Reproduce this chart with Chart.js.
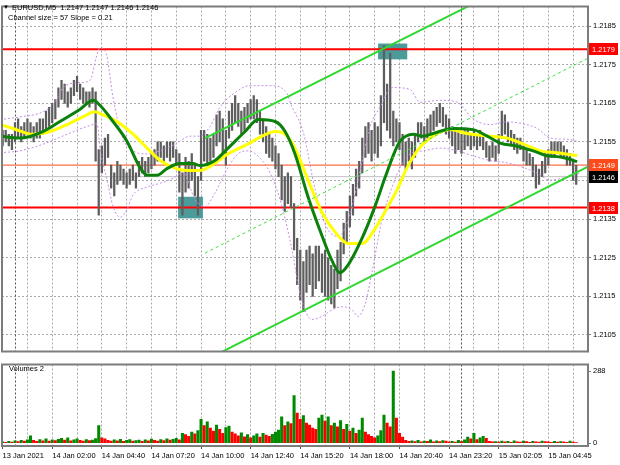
<!DOCTYPE html>
<html>
<head>
<meta charset="utf-8">
<script src="https://cdn.jsdelivr.net/npm/chart.js@4.4.1/dist/chart.umd.min.js"></script>
<style>
  html, body { margin: 0; padding: 0; background: #fff; }
  #wrap { position: relative; width: 620px; height: 465px; overflow: hidden; }
  canvas { position: absolute; left: 0; }
  #main { top: 0; }
  #vol { top: 358px; }
</style>
</head>
<body>
<div id="wrap">
  <canvas id="main" width="620" height="358"></canvas>
  <canvas id="vol" width="620" height="107"></canvas>
</div>
<script>
// x axis is in 10-minute steps counted from 13 Jan 23:20
const timeLabels = ['13 Jan 2021', '14 Jan 02:00', '14 Jan 04:40', '14 Jan 07:20', '14 Jan 10:00', '14 Jan 12:40',
    '14 Jan 15:20', '14 Jan 18:00', '14 Jan 20:40', '14 Jan 23:20', '15 Jan 02:05', '15 Jan 04:45'];
const labelStep = 16;
const daySeparators = [4, 148];
const priceTicks = [1.2105, 1.2115, 1.2125, 1.2135, 1.2145, 1.2155, 1.2165, 1.2175, 1.2185];
const volumeTicks = [0, 288];

const barLow = [
    1.2154, 1.2155, 1.2154, 1.2153, 1.2155, 1.2156, 1.2155, 1.2156, 1.2157, 1.2156,
    1.2155, 1.2156, 1.2156, 1.2157, 1.2158, 1.2159, 1.2160, 1.2161, 1.2164, 1.2166,
    1.2165, 1.2164, 1.2165, 1.2167, 1.2168, 1.2166, 1.2165, 1.2165, 1.2164, 1.2165,
    1.2150, 1.2136, 1.2147, 1.2149, 1.2151,
    1.2143, 1.2141, 1.2144, 1.2145, 1.2144, 1.2143, 1.2144, 1.2145, 1.2143, 1.2146,
    1.2147, 1.2146, 1.2147, 1.2148, 1.2149, 1.2150, 1.2151, 1.2150, 1.2151, 1.2150,
    1.2151, 1.2149, 1.2142, 1.2136, 1.2142, 1.2143, 1.2145, 1.2141, 1.2136, 1.2145,
    1.2150, 1.2149, 1.2150, 1.2151, 1.2154, 1.2155, 1.2152, 1.2149, 1.2156, 1.2158,
    1.2160, 1.2159, 1.2157, 1.2158, 1.2160, 1.2161, 1.2161, 1.2160, 1.2157, 1.2155,
    1.2152, 1.2151, 1.2150, 1.2148, 1.2146, 1.2140, 1.2137, 1.2139, 1.2138, 1.2127,
    1.2118, 1.2114, 1.2111, 1.2116, 1.2118, 1.2115, 1.2117, 1.2119, 1.2116, 1.2115,
    1.2114, 1.2113, 1.2112, 1.2117, 1.2119, 1.2126, 1.2129, 1.2133, 1.2136, 1.2141,
    1.2143, 1.2147, 1.2151, 1.2152, 1.2150, 1.2152, 1.2151, 1.2154, 1.2160, 1.2158,
    1.2156, 1.2154, 1.2155, 1.2153, 1.2149, 1.2148, 1.2150, 1.2148, 1.2151, 1.2155,
    1.2156, 1.2155, 1.2156, 1.2157, 1.2158, 1.2159, 1.2160, 1.2159, 1.2157, 1.2156,
    1.2154, 1.2152, 1.2153, 1.2152, 1.2153, 1.2154, 1.2153, 1.2154, 1.2153, 1.2154,
    1.2153, 1.2151, 1.2150, 1.2151, 1.2150, 1.2152, 1.2156, 1.2157, 1.2155, 1.2154,
    1.2153, 1.2152, 1.2153,
    1.2150, 1.2149, 1.2149, 1.2146, 1.2143, 1.2144, 1.2146, 1.2147, 1.2149, 1.2151,
    1.2151, 1.2152, 1.2151, 1.2151, 1.2149, 1.2149, 1.2145, 1.2144
];
const barHigh = [
    1.2158, 1.2158, 1.2157, 1.2157, 1.2160, 1.2161, 1.2159, 1.2160, 1.2161, 1.2160,
    1.2159, 1.2160, 1.2161, 1.2161, 1.2163, 1.2164, 1.2165, 1.2166, 1.2169, 1.2171,
    1.2170, 1.2168, 1.2169, 1.2171, 1.2172, 1.2170, 1.2169, 1.2168, 1.2168, 1.2169,
    1.2168, 1.2153, 1.2154, 1.2156, 1.2157,
    1.2149, 1.2147, 1.2150, 1.2149, 1.2148, 1.2147, 1.2148, 1.2149, 1.2147, 1.2150,
    1.2151, 1.2150, 1.2151, 1.2152, 1.2153, 1.2155, 1.2155, 1.2154, 1.2155, 1.2155,
    1.2155, 1.2153, 1.2152, 1.2147, 1.2151, 1.2150, 1.2152, 1.2149, 1.2146, 1.2158,
    1.2158, 1.2157, 1.2156, 1.2157, 1.2162, 1.2163, 1.2161, 1.2158, 1.2163, 1.2165,
    1.2167, 1.2165, 1.2163, 1.2164, 1.2165, 1.2166, 1.2167, 1.2166, 1.2163, 1.2161,
    1.2159, 1.2157, 1.2156, 1.2154, 1.2152, 1.2149, 1.2146, 1.2147, 1.2146, 1.2139,
    1.2130, 1.2127, 1.2124, 1.2127, 1.2128, 1.2126, 1.2128, 1.2128, 1.2126, 1.2127,
    1.2125, 1.2123, 1.2122, 1.2127, 1.2129, 1.2134, 1.2137, 1.2141, 1.2144, 1.2148,
    1.2150, 1.2156, 1.2159, 1.2160, 1.2158, 1.2160, 1.2159, 1.2167, 1.2180, 1.2170,
    1.2178, 1.2163, 1.2161, 1.2160, 1.2157, 1.2155, 1.2156, 1.2155, 1.2157, 1.2160,
    1.2160, 1.2159, 1.2161, 1.2162, 1.2163, 1.2164, 1.2165, 1.2164, 1.2162, 1.2161,
    1.2159, 1.2158, 1.2158, 1.2157, 1.2158, 1.2158, 1.2157, 1.2158, 1.2157, 1.2158,
    1.2157, 1.2155, 1.2154, 1.2155, 1.2154, 1.2157, 1.2163, 1.2162, 1.2160, 1.2158,
    1.2157, 1.2156, 1.2156,
    1.2154, 1.2153, 1.2152, 1.2151, 1.2149, 1.2148, 1.2150, 1.2152, 1.2153, 1.2155,
    1.2155, 1.2155, 1.2155, 1.2154, 1.2153, 1.2152, 1.2150, 1.2149
];
const volumes = [
    6, 4, 8, 5, 10, 7, 12, 9, 14, 30,
    12, 8, 15, 10, 18, 9, 14, 11, 16, 20, 13, 22, 10, 14, 18, 12, 9, 15, 11, 13, 19,
    70, 22,
    18, 12, 9, 14, 10, 16, 8, 12, 15, 9, 11, 13, 8, 14, 10, 17, 12, 9, 15, 11, 18, 13, 16, 20, 14,
    40, 35, 28, 45, 38, 50, 95, 70, 85, 60, 48, 72, 55, 40, 62, 68, 45, 38, 30, 42,
    26, 35, 22, 30, 38, 25, 40, 33, 28, 36, 45, 52, 105, 70, 85, 78, 190, 120, 95, 110,
    80, 72, 60, 55, 100, 112, 88, 105, 70, 80, 65, 90, 55, 75, 48, 60, 40, 52, 100, 45,
    35, 28, 22, 30, 50, 112, 80, 65, 288, 100, 40, 25, 12, 8, 10, 7, 12, 6, 9, 8,
    14, 6, 10, 7, 11, 9, 6, 8, 5, 12, 7, 14, 25, 18, 40, 15, 22, 28, 20, 8, 6,
    7, 5, 9, 6, 8, 4, 10, 6, 5, 9, 7, 4, 8, 6, 5, 9, 7, 6, 4, 8, 5, 7, 6, 4, 9, 5, 3
];

const greenMaK = [-0.8, 5.6, 13.0, 18.5, 25.0, 29.2, 31.4, 35.6, 40.1, 44.3, 46.6, 49.8, 53.0, 57.2, 61.4, 63.7,
    68.5, 72.7, 78.2, 82.4, 87.9, 91.1, 94.3, 98.5, 103.0, 106.3, 108.8, 111.4, 115.9, 120.1, 123.4, 126.6,
    128.2, 132.4, 135.6, 138.8, 145.3, 151.7, 156.3, 160.5, 165.9, 171.1, 175.6, 178.9, 182.1, 185.3];
const greenMaPrice = [1.21565, 1.21560, 1.21577, 1.21603, 1.21635, 1.21658, 1.21645, 1.21603, 1.21552, 1.21484,
    1.21464, 1.21464, 1.21481, 1.21494, 1.21494, 1.21489, 1.21502, 1.21534, 1.21577, 1.21608, 1.21603, 1.21577,
    1.21519, 1.21408, 1.21307, 1.21241, 1.21211, 1.21231, 1.21300, 1.21383, 1.21459, 1.21527, 1.21552, 1.21570,
    1.21565, 1.21572, 1.21585, 1.21582, 1.21565, 1.21547, 1.21539, 1.21527, 1.21514, 1.21512, 1.21507, 1.21499];

const yellowMaK = [-0.8, 3.4, 9.8, 15.3, 20.8, 25.9, 29.8, 32.4, 36.9, 42.1, 46.6, 50.8, 55.0, 59.5, 63.7, 66.3,
    72.7, 79.2, 83.7, 87.9, 91.1, 94.3, 98.5, 103.0, 107.2, 111.4, 115.9, 120.1, 124.3, 127.2, 130.5, 133.7,
    137.9, 144.3, 149.8, 157.2, 162.7, 167.9, 173.4, 178.8, 185.3];
const yellowMaPrice = [1.21595, 1.21585, 1.21570, 1.21577, 1.21595, 1.21615, 1.21628, 1.21620, 1.21603, 1.21570,
    1.21534, 1.21502, 1.21484, 1.21476, 1.21476, 1.21484, 1.21519, 1.21545, 1.21565, 1.21577, 1.21570, 1.21534,
    1.21451, 1.21368, 1.21317, 1.21287, 1.21287, 1.21325, 1.21383, 1.21426, 1.21484, 1.21527, 1.21560, 1.21582,
    1.21572, 1.21565, 1.21560, 1.21545, 1.21527, 1.21522, 1.21514];

const upperBandK = [-0.8, 5.6, 13.0, 16.9, 19.5, 25.0, 28.2, 30.1, 31.4, 33.4, 35.6, 38.5, 42.1, 46.6, 50.8, 55.6,
    60.5, 63.7, 66.9, 70.1, 75.0, 79.8, 86.3, 91.1, 93.4, 96.9, 100.8, 104.0, 108.2, 112.1, 115.3, 118.5, 121.7,
    125.6, 131.4, 134.6, 141.1, 146.6, 151.7, 157.2, 162.7, 167.9, 172.4, 176.6, 182.1, 185.3];
const upperBandPrice = [1.21608, 1.21615, 1.21628, 1.21653, 1.21691, 1.21704, 1.21709, 1.21767, 1.21794, 1.21779,
    1.21666, 1.21565, 1.21527, 1.21519, 1.21527, 1.21544, 1.21565, 1.21565, 1.21590, 1.21640, 1.21678, 1.21696,
    1.21696, 1.21683, 1.21640, 1.21577, 1.21426, 1.21337, 1.21305, 1.21363, 1.21476, 1.21590, 1.21640, 1.21691,
    1.21686, 1.21653, 1.21658, 1.21653, 1.21610, 1.21595, 1.21602, 1.21597, 1.21585, 1.21560, 1.21557, 1.21552];

const lowerBandK = [-0.8, 5.6, 13.0, 20.8, 27.2, 30.5, 31.4, 33.7, 35.6, 37.9, 40.1, 42.1, 46.6, 50.8, 55.0, 58.2,
    62.1, 65.3, 68.5, 72.7, 75.9, 79.2, 83.7, 86.9, 90.1, 93.4, 95.3, 97.5, 99.8, 103.0, 106.3, 109.5, 112.7,
    114.6, 116.9, 119.2, 122.4, 125.6, 128.2, 131.4, 135.6, 141.1, 146.6, 151.7, 157.2, 162.7, 167.9, 172.4,
    176.6, 182.1, 186.2];
const lowerBandPrice = [1.21522, 1.21527, 1.21544, 1.21570, 1.21590, 1.21597, 1.21534, 1.21451, 1.21383, 1.21355,
    1.21375, 1.21413, 1.21433, 1.21443, 1.21456, 1.21471, 1.21400, 1.21383, 1.21418, 1.21484, 1.21519, 1.21527,
    1.21502, 1.21459, 1.21383, 1.21267, 1.21181, 1.21115, 1.21090, 1.21098, 1.21115, 1.21123, 1.21115, 1.21098,
    1.21130, 1.21216, 1.21350, 1.21433, 1.21484, 1.21519, 1.21527, 1.21534, 1.21527, 1.21514, 1.21502, 1.21496,
    1.21484, 1.21469, 1.21451, 1.21459, 1.21469];

const channelUpperK = [65.3, 152];
const channelUpperPrice = [1.21560, 1.21909];
const channelLowerK = [68, 188.8];
const channelLowerPrice = [1.20995, 1.21486];
const channelMidK = [65.3, 188.8];
const channelMidPrice = [1.21262, 1.21767];

const redLevels = [1.2179, 1.2138];
const markLevel = 1.2149;
const bidLevel = 1.2146;
const tagPrices = [1.2179, 1.2149, 1.2146, 1.2138];

const boxFromK = [56.6, 121.1];
const boxToK = [64.6, 130.5];
const boxTopPrice = [1.21408, 1.21805];
const boxBottomPrice = [1.21352, 1.21764];

const header = 'EURUSD,M5  1.2147 1.2147 1.2146 1.2146';
const subHeader = 'Channel size = 57 Slope = 0.21';

const xMin = -0.2, xMax = 188.8;
const FONT = "'Liberation Sans', 'DejaVu Sans', sans-serif";
const tagColors = ['#ff0000', '#ff4a1c', '#000000', '#ff0000'];
const gridColor = '#a9a9a9';
const frameColor = '#7c7c7c';

Chart.defaults.font.family = FONT;
Chart.defaults.font.size = 7.5;
Chart.defaults.color = '#000';

function pts(ks, ps) {
    return ks.map((k, i) => ({ x: k, y: ps[i] }));
}
function flat(price) {
    return [{ x: xMin, y: price }, { x: xMax, y: price }];
}
function lineSet(data, color, width, order, dash) {
    return {
        type: 'line', data: data, borderColor: color, borderWidth: width, order: order,
        borderDash: dash || [], pointRadius: 0, fill: false, cubicInterpolationMode: 'monotone'
    };
}
const gridTicks = [];
for (let k = 0; k <= xMax; k += labelStep / 2) gridTicks.push(k);

function drawSeparators(chart) {
    const { ctx, chartArea: a, scales: { x } } = chart;
    ctx.save();
    ctx.strokeStyle = '#555';
    ctx.lineWidth = 1;
    ctx.setLineDash([2, 2]);
    daySeparators.forEach(k => {
        const px = Math.round(x.getPixelForValue(k)) + 0.5;
        ctx.beginPath();
        ctx.moveTo(px, a.top);
        ctx.lineTo(px, a.bottom);
        ctx.stroke();
    });
    ctx.restore();
}
function drawFrame(chart) {
    const { ctx, chartArea: a } = chart;
    ctx.save();
    ctx.strokeStyle = frameColor;
    ctx.lineWidth = 2;
    ctx.strokeRect(a.left, a.top, a.right - a.left, a.bottom - a.top);
    ctx.restore();
}

const mainDecor = {
    id: 'mainDecor',
    beforeDatasetsDraw(chart) {
        const { ctx, chartArea: a, scales: { x, y } } = chart;
        drawSeparators(chart);
        ctx.save();
        ctx.beginPath();
        ctx.rect(a.left, a.top, a.right - a.left, a.bottom - a.top);
        ctx.clip();
        boxFromK.forEach((k, i) => {
            const x1 = x.getPixelForValue(k), x2 = x.getPixelForValue(boxToK[i]);
            const y1 = y.getPixelForValue(boxTopPrice[i]), y2 = y.getPixelForValue(boxBottomPrice[i]);
            ctx.fillStyle = '#4c9b9b';
            ctx.fillRect(x1, y1, x2 - x1, y2 - y1);
        });
        ctx.restore();
    },
    afterDraw(chart) {
        const { ctx, chartArea: a, scales: { y } } = chart;
        drawFrame(chart);
        ctx.save();
        ctx.font = '7.5px ' + FONT;
        ctx.textBaseline = 'middle';
        tagPrices.forEach((p, i) => {
            const py = Math.round(y.getPixelForValue(p));
            ctx.fillStyle = tagColors[i];
            ctx.fillRect(a.right + 1, py - 6, 29, 12);
            ctx.fillStyle = '#fff';
            ctx.fillText(p.toFixed(4), a.right + 4, py + 0.5);
        });
        ctx.fillStyle = '#000';
        ctx.font = '6px ' + FONT;
        ctx.fillText('\u25BC', 3, 7);
        ctx.font = '7.5px ' + FONT;
        ctx.fillText(header, 12, 7.5);
        ctx.fillText(subHeader, 8, 18);
        ctx.restore();
    }
};

const volDecor = {
    id: 'volDecor',
    beforeDatasetsDraw(chart) {
        drawSeparators(chart);
    },
    afterDraw(chart) {
        const { ctx } = chart;
        drawFrame(chart);
        ctx.save();
        ctx.fillStyle = '#000';
        ctx.font = '7.5px ' + FONT;
        ctx.textBaseline = 'middle';
        ctx.fillText('Volumes 2', 9, 11);
        ctx.restore();
    }
};

new Chart(document.getElementById('main'), {
    type: 'bar',
    data: {
        datasets: [
            {
                type: 'bar',
                data: barLow.map((lo, i) => ({ x: i, y: [lo, barHigh[i]] })),
                backgroundColor: '#5e5e5e',
                barThickness: 1.6,
                grouped: false,
                order: 10
            },
            lineSet(flat(redLevels[0]), '#ff0000', 2, 11),
            lineSet(flat(redLevels[1]), '#ff0000', 2, 11),
            lineSet(flat(markLevel), '#ff4a1c', 1, 11),
            lineSet(flat(bidLevel), '#c0c0c0', 1, 11),
            lineSet(pts(upperBandK, upperBandPrice), '#c58ee6', 1, 8, [2, 2]),
            lineSet(pts(lowerBandK, lowerBandPrice), '#c58ee6', 1, 8, [2, 2]),
            lineSet(pts(yellowMaK, yellowMaPrice), '#ffff00', 3, 6),
            lineSet(pts(greenMaK, greenMaPrice), '#0b800b', 3, 5),
            lineSet(pts(channelMidK, channelMidPrice), '#3ee03e', 1, 4, [3, 3]),
            lineSet(pts(channelUpperK, channelUpperPrice), '#2fd82f', 2, 4),
            lineSet(pts(channelLowerK, channelLowerPrice), '#2fd82f', 2, 4)
        ]
    },
    options: {
        responsive: false,
        animation: false,
        devicePixelRatio: 1,
        events: [],
        layout: { padding: { left: 2, top: 2, bottom: 2, right: 0 } },
        plugins: { legend: { display: false }, tooltip: { enabled: false } },
        scales: {
            x: {
                type: 'linear', min: xMin, max: xMax, offset: false,
                afterBuildTicks: s => { s.ticks = gridTicks.map(v => ({ value: v })); },
                ticks: { display: false },
                grid: { color: gridColor, drawTicks: false, offset: false },
                border: { display: false, dash: [2, 2] }
            },
            y: {
                position: 'right', min: 1.21007, max: 1.21901,
                afterBuildTicks: s => { s.ticks = priceTicks.map(v => ({ value: v })); },
                afterFit: s => { s.width = 32; },
                ticks: { callback: v => v.toFixed(4), padding: 2 },
                grid: { color: gridColor, tickLength: 3, tickColor: frameColor, tickBorderDash: [] },
                border: { display: false, dash: [2, 2] }
            }
        }
    },
    plugins: [mainDecor]
});

new Chart(document.getElementById('vol'), {
    type: 'bar',
    data: {
        datasets: [{
            data: volumes.map((v, i) => ({ x: i, y: [0, v] })),
            backgroundColor: volumes.map((v, i) => (i === 0 || v > volumes[i - 1]) ? '#008a00' : '#ff0000'),
            barThickness: 2.4,
            grouped: false
        }]
    },
    options: {
        responsive: false,
        animation: false,
        devicePixelRatio: 1,
        events: [],
        layout: { padding: { left: 2, top: 1, bottom: 0, right: 0 } },
        plugins: { legend: { display: false }, tooltip: { enabled: false } },
        scales: {
            x: {
                type: 'linear', min: xMin, max: xMax, offset: false,
                afterBuildTicks: s => { s.ticks = gridTicks.map(v => ({ value: v })); },
                afterFit: s => { s.height = 19; },
                ticks: {
                    autoSkip: false, maxRotation: 0, minRotation: 0, align: 'start', padding: 2,
                    callback: v => (v % labelStep === 0 ? timeLabels[v / labelStep] : '')
                },
                grid: {
                    color: gridColor, tickLength: 3, tickBorderDash: [], offset: false,
                    tickColor: c => (c.tick && c.tick.value % labelStep === 0) ? '#555' : 'rgba(0,0,0,0)'
                },
                border: { display: false, dash: [2, 2] }
            },
            y: {
                position: 'right', min: -11, max: 314,
                afterBuildTicks: s => { s.ticks = volumeTicks.map(v => ({ value: v })); },
                afterFit: s => { s.width = 32; },
                ticks: { padding: 2 },
                grid: { drawOnChartArea: false, tickLength: 3, tickColor: frameColor },
                border: { display: false }
            }
        }
    },
    plugins: [volDecor]
});
</script>
</body>
</html>
